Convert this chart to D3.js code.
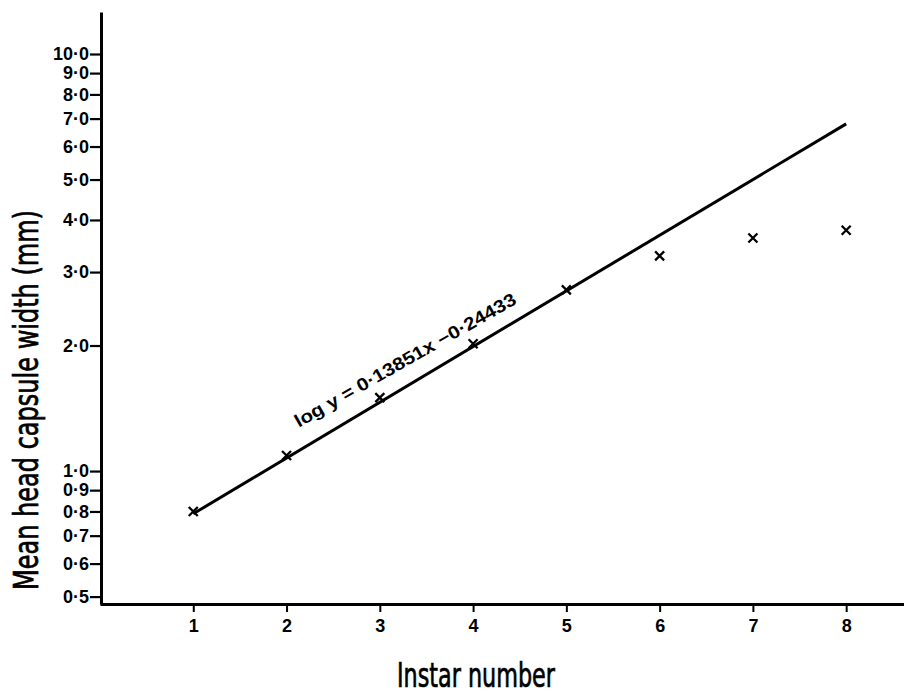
<!DOCTYPE html>
<html>
<head>
<meta charset="utf-8">
<script src="https://cdn.jsdelivr.net/npm/d3@7"></script>
<style>
  body { margin: 0; background: #fff; }
  svg { display: block; }
</style>
</head>
<body>
<div id="chart"></div>
<script>
// data
var instar = [1, 2, 3, 4, 5, 6, 7, 8];
var capsuleWidth = [0.80, 1.09, 1.50, 2.02, 2.72, 3.28, 3.62, 3.78];
var fitX = [1, 8];
var fitY = [0.79, 6.8];
var yTicks = [0.5, 0.6, 0.7, 0.8, 0.9, 1, 2, 3, 4, 5, 6, 7, 8, 9, 10];
var xTicks = [1, 2, 3, 4, 5, 6, 7, 8];
var eqLabel = 'log y = 0\u00b713851x \u22120\u00b724433';
var eqPos = {x: 2.13, y: 1.27};

var W = 904, H = 695;
var svg = d3.select('#chart').append('svg').attr('width', W).attr('height', H);

var x = d3.scaleLinear().domain([0, 8.62]).range([100, 904]);
var y = d3.scaleLog().domain([0.48, 12.61]).range([604, 12]);

var fmt = function (d) { return d.toFixed(1).replace('.', '\u00b7'); };
var tickFont = '"Liberation Sans", Arial, sans-serif';
var titleFont = '"Liberation Sans Narrow", "DejaVu Sans Condensed", sans-serif';

// y axis
var axY = svg.append('g').attr('transform', 'translate(101,0)')
  .call(d3.axisLeft(y).tickValues(yTicks).tickFormat(fmt).tickSize(11).tickSizeOuter(0).tickPadding(1));
axY.select('.domain').attr('stroke', '#000').attr('stroke-width', 3);
axY.selectAll('.tick line').attr('stroke', '#000').attr('stroke-width', 2.2);
axY.selectAll('.tick text').attr('fill', '#000')
  .style('font-family', tickFont).style('font-weight', 'bold').style('font-size', '18px');

// x axis
var axX = svg.append('g').attr('transform', 'translate(0,604)')
  .call(d3.axisBottom(x).tickValues(xTicks).tickFormat(d3.format('d')).tickSize(8).tickSizeOuter(0).tickPadding(7));
axX.select('.domain').attr('stroke', '#000').attr('stroke-width', 3);
axX.selectAll('.tick line').attr('stroke', '#000').attr('stroke-width', 2);
axX.selectAll('.tick text').attr('fill', '#000')
  .style('font-family', tickFont).style('font-weight', 'bold').style('font-size', '18px');

// fitted line
var line = d3.line().x(function (d) { return x(d[0]); }).y(function (d) { return y(d[1]); });
svg.append('path').datum(d3.zip(fitX, fitY)).attr('d', line)
  .attr('fill', 'none').attr('stroke', '#000').attr('stroke-width', 3);

// points (x marks)
var s = 4.5;
svg.selectAll('.pt').data(d3.zip(instar, capsuleWidth)).enter().append('path')
  .attr('class', 'pt')
  .attr('d', function (d) {
    var cx = x(d[0]), cy = y(d[1]);
    return 'M' + (cx - s) + ',' + (cy - s) + 'L' + (cx + s) + ',' + (cy + s) +
           'M' + (cx + s) + ',' + (cy - s) + 'L' + (cx - s) + ',' + (cy + s);
  })
  .attr('stroke', '#000').attr('stroke-width', 2.3).attr('fill', 'none');

// equation label
var ang = Math.atan2(y(fitY[1]) - y(fitY[0]), x(fitX[1]) - x(fitX[0])) * 180 / Math.PI + 1.2;
svg.append('text')
  .attr('transform', 'translate(' + x(eqPos.x) + ',' + y(eqPos.y) + ') rotate(' + ang + ')')
  .attr('textLength', 252).attr('lengthAdjust', 'spacingAndGlyphs')
  .style('font-family', tickFont).style('font-weight', 'bold').style('font-size', '18px')
  .text(eqLabel);

// axis titles
svg.append('text')
  .attr('x', 476).attr('y', 687).attr('text-anchor', 'middle')
  .attr('textLength', 158).attr('lengthAdjust', 'spacingAndGlyphs')
  .attr('stroke', '#000').attr('stroke-width', 0.7)
  .style('font-family', titleFont).style('font-size', '34px')
  .text('Instar number');

svg.append('text')
  .attr('transform', 'translate(38,400) rotate(-90)').attr('text-anchor', 'middle')
  .attr('textLength', 380).attr('lengthAdjust', 'spacingAndGlyphs')
  .attr('stroke', '#000').attr('stroke-width', 0.7)
  .style('font-family', titleFont).style('font-size', '34px')
  .text('Mean head capsule width (mm)');
</script>
</body>
</html>
